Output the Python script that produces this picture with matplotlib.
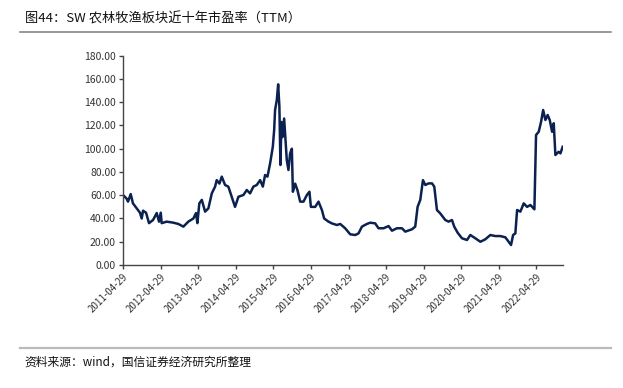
import matplotlib
matplotlib.use("Agg")
import matplotlib.pyplot as plt
import matplotlib.dates as mdates
import pandas as pd

plt.rcParams['font.family'] = ['Noto Sans CJK SC', 'DejaVu Sans']

# --- datos ---
fechas = [
    "2011-04-29", "2011-05-02", "2011-06-04", "2011-06-17", "2011-07-13", "2011-08-04",
    "2011-10-11", "2011-10-28", "2011-11-10", "2011-12-09", "2012-01-07", "2012-02-15",
    "2012-03-22", "2012-04-13", "2012-04-30", "2012-05-09", "2012-06-27", "2012-08-30",
    "2012-10-18", "2012-12-06", "2013-01-23", "2013-03-13", "2013-04-08", "2013-04-21",
    "2013-05-10", "2013-06-03", "2013-07-05", "2013-08-06", "2013-09-08", "2013-10-10",
    "2013-10-26", "2013-11-21", "2013-12-14", "2014-01-15", "2014-02-16", "2014-03-21",
    "2014-04-22", "2014-05-25", "2014-07-12", "2014-08-14", "2014-09-15", "2014-10-17",
    "2014-11-19", "2014-12-22", "2015-01-17", "2015-02-08", "2015-03-03", "2015-03-29",
    "2015-04-24", "2015-05-07", "2015-05-16", "2015-06-02", "2015-06-15", "2015-06-27",
    "2015-07-07", "2015-07-17", "2015-07-27", "2015-08-12", "2015-08-25", "2015-09-07",
    "2015-09-23", "2015-10-09", "2015-10-26", "2015-11-05", "2015-11-27", "2015-12-19",
    "2016-01-15", "2016-02-16", "2016-03-20", "2016-04-14", "2016-04-28", "2016-06-09",
    "2016-07-11", "2016-08-13", "2016-09-04", "2016-10-16", "2016-11-18", "2017-01-06",
    "2017-02-07", "2017-03-27", "2017-05-15", "2017-07-03", "2017-08-04", "2017-09-06",
    "2017-10-24", "2017-11-26", "2018-01-13", "2018-02-14", "2018-04-04", "2018-05-23",
    "2018-06-25", "2018-08-12", "2018-09-30", "2018-11-01", "2019-01-05", "2019-02-06",
    "2019-03-01", "2019-03-27", "2019-04-22", "2019-05-15", "2019-06-16", "2019-07-19",
    "2019-08-10", "2019-09-05", "2019-10-07", "2019-11-25", "2019-12-27", "2020-01-29",
    "2020-02-20", "2020-03-24", "2020-05-05", "2020-06-23", "2020-07-25", "2020-09-12",
    "2020-10-31", "2020-12-18", "2021-02-05", "2021-03-25", "2021-05-13", "2021-07-01",
    "2021-08-02", "2021-08-25", "2021-09-14", "2021-10-06", "2021-10-23", "2021-11-24",
    "2021-12-26", "2022-01-28", "2022-03-01", "2022-04-09", "2022-04-25", "2022-05-21",
    "2022-06-13", "2022-07-03", "2022-07-25", "2022-08-16", "2022-09-05", "2022-09-28",
    "2022-10-14", "2022-10-30", "2022-12-01", "2022-12-18", "2023-01-09",
]
pe_ttm = [
    59.5, 60.0, 57.0, 54.5, 61.0, 53.0,
    45.0, 40.0, 46.7, 45.0, 36.0, 38.7,
    44.7, 37.3, 45.0, 36.0, 37.3, 36.4,
    35.3, 33.0, 37.3, 40.0, 44.7, 36.0,
    53.0, 56.0, 45.9, 48.7, 61.6, 67.4,
    73.0, 70.0, 76.0, 68.8, 67.4, 58.7,
    50.0, 58.7, 60.2, 64.5, 61.6, 67.4,
    68.8, 73.0, 67.4, 77.4, 76.0, 87.5,
    101.7, 116.0, 133.3, 142.0, 155.4, 136.0,
    86.0, 123.0, 110.0, 126.0, 107.5, 90.0,
    81.7, 96.0, 100.0, 63.0, 70.0, 64.5,
    54.5, 54.5, 60.2, 63.0, 50.0, 50.0,
    54.5, 47.3, 40.0, 37.3, 35.8, 34.4,
    35.3, 31.6, 26.4, 25.8, 27.2, 33.0,
    35.3, 36.4, 35.8, 31.6, 31.6, 33.5,
    29.5, 31.6, 31.6, 28.7, 30.7, 33.0,
    50.0, 56.0, 73.0, 68.8, 70.2, 70.2,
    67.4, 47.3, 44.4, 38.7, 37.3, 38.7,
    33.0, 27.8, 23.0, 21.5, 25.8, 23.0,
    20.0, 22.1, 25.8, 24.9, 24.9, 23.8,
    20.0, 17.2, 25.8, 27.2, 47.3, 45.9,
    53.0, 50.0, 51.6, 47.9, 111.8, 114.6,
    123.2, 133.3, 124.7, 129.0, 124.7, 114.6,
    121.9, 94.6, 97.4, 96.0, 101.7,
]
etiquetas_x = ["2011-04-29", "2012-04-29", "2013-04-29", "2014-04-29", "2015-04-29",
               "2016-04-29", "2017-04-29", "2018-04-29", "2019-04-29", "2020-04-29",
               "2021-04-29", "2022-04-29"]
valores_y = [0, 20, 40, 60, 80, 100, 120, 140, 160, 180]

titulo = "图44：SW 农林牧渔板块近十年市盈率（TTM）"
fuente = "资料来源：wind，国信证券经济研究所整理"

# --- gráfica ---
fig = plt.figure(figsize=(6.23, 3.88), dpi=100)
ax = fig.add_axes([0.1974, 0.317, 0.7063, 0.5394])

x = pd.to_datetime(fechas)
ax.plot(x, pe_ttm, color='#0b2150', linewidth=1.8)

ax.set_ylim(0, 180)
ax.set_xlim(pd.Timestamp("2011-04-29"), pd.Timestamp("2023-01-12"))
ax.set_yticks(valores_y)
ax.set_yticklabels([f"{v:.2f}" for v in valores_y], fontsize=7.5, color='#333333')
ticks_x = pd.to_datetime(etiquetas_x)
ax.set_xticks(ticks_x)
ax.set_xticklabels(etiquetas_x, rotation=45, ha='right', rotation_mode='anchor',
                   fontsize=7, color='#333333')

for lado in ['top', 'right']:
    ax.spines[lado].set_visible(False)
for lado in ['left', 'bottom']:
    ax.spines[lado].set_color('#444444')
    ax.spines[lado].set_linewidth(1.0)
ax.tick_params(direction='out', length=3, width=1, color='#444444', pad=2)

# título, fuente y líneas separadoras
fig.text(0.04, 0.952, titulo, fontsize=9.5, va='center', ha='left', color='#111111')
fig.add_artist(plt.Line2D([0.032, 0.98], [0.9175, 0.9175], color='#888888', linewidth=1.2))
fig.add_artist(plt.Line2D([0.032, 0.98], [0.103, 0.103], color='#bbbbbb', linewidth=1.6))
fig.text(0.04, 0.067, fuente, fontsize=8.5, va='center', ha='left', color='#111111')

fig.savefig("out.png", dpi=100)
